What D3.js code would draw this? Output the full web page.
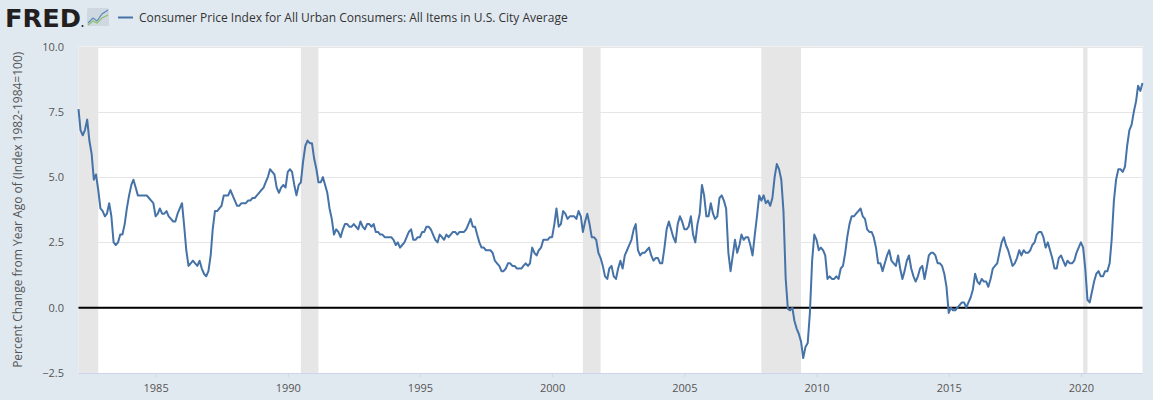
<!DOCTYPE html>
<html>
<head>
<meta charset="utf-8">
<script src="https://cdn.jsdelivr.net/npm/d3@7"></script>
<style>
  html, body { margin: 0; padding: 0; background: #e1e9f0; }
  svg { display: block; font-family: "Open Sans", sans-serif; }
</style>
</head>
<body>
<div id="chart"></div>
<script>
// CPI-U, percent change from a year ago, monthly from 1982-02
var firstMonth = '1982-02';
var cpiYoY = [
  7.6, 6.8, 6.6, 6.8, 7.2, 6.4, 5.9, 4.9, 5.1, 4.5, 3.8,
  3.7, 3.5, 3.6, 4.0, 3.5, 2.5, 2.4, 2.5, 2.8, 2.8, 3.2, 3.8,
  4.3, 4.7, 4.9, 4.6, 4.3, 4.3, 4.3, 4.3, 4.3, 4.2, 4.1, 4.0,
  3.5, 3.6, 3.8, 3.6, 3.6, 3.7, 3.5, 3.4, 3.3, 3.3, 3.6, 3.8,
  4.0, 3.1, 2.2, 1.6, 1.7, 1.8, 1.7, 1.6, 1.8, 1.5, 1.3, 1.2,
  1.4, 2.0, 3.0, 3.7, 3.7, 3.8, 3.9, 4.3, 4.3, 4.3, 4.5, 4.3,
  4.1, 3.9, 3.9, 4.0, 4.0, 4.0, 4.1, 4.1, 4.2, 4.2, 4.3, 4.4,
  4.5, 4.6, 4.8, 5.0, 5.3, 5.2, 5.1, 4.6, 4.4, 4.6, 4.7, 4.6,
  5.2, 5.3, 5.2, 4.7, 4.3, 4.7, 4.8, 5.6, 6.2, 6.4, 6.3, 6.3,
  5.7, 5.3, 4.8, 4.8, 5.0, 4.7, 4.4, 3.8, 3.4, 2.8, 3.0, 2.9,
  2.7, 3.0, 3.2, 3.2, 3.1, 3.1, 3.2, 3.1, 3.0, 3.3, 3.1, 3.0,
  3.2, 3.2, 3.1, 3.2, 2.9, 2.9, 2.8, 2.8, 2.7, 2.7, 2.7, 2.7,
  2.6, 2.4, 2.5, 2.3, 2.4, 2.5, 2.7, 2.9, 3.0, 2.6, 2.6, 2.7,
  2.7, 2.9, 2.9, 3.1, 3.1, 3.0, 2.8, 2.6, 2.5, 2.8, 2.7, 2.6,
  2.8, 2.7, 2.8, 2.9, 2.9, 2.8, 2.9, 2.9, 2.9, 3.0, 3.2, 3.4,
  3.1, 3.1, 2.8, 2.5, 2.3, 2.3, 2.2, 2.2, 2.2, 2.1, 1.8, 1.7,
  1.6, 1.4, 1.4, 1.5, 1.7, 1.7, 1.6, 1.6, 1.5, 1.5, 1.5, 1.6,
  1.7, 1.6, 1.7, 2.3, 2.1, 2.0, 2.2, 2.3, 2.6, 2.6, 2.6, 2.7,
  2.7, 3.2, 3.8, 3.1, 3.2, 3.7, 3.6, 3.4, 3.5, 3.5, 3.5, 3.4,
  3.7, 3.5, 2.9, 3.3, 3.6, 3.2, 2.7, 2.7, 2.6, 2.1, 1.9, 1.6,
  1.2, 1.1, 1.5, 1.6, 1.2, 1.1, 1.5, 1.8, 1.5, 2.0, 2.2, 2.4,
  2.6, 3.0, 3.2, 2.2, 2.0, 2.1, 2.1, 2.2, 2.3, 2.0, 1.8, 1.9,
  1.9, 1.7, 1.7, 2.3, 3.0, 3.3, 3.0, 2.7, 2.5, 3.2, 3.5, 3.3,
  3.0, 3.0, 3.1, 3.5, 2.8, 2.5, 3.2, 3.6, 4.7, 4.3, 3.5, 3.5,
  4.0, 3.6, 3.4, 3.5, 4.2, 4.3, 4.1, 3.8, 2.1, 1.4, 2.0, 2.6,
  2.1, 2.4, 2.8, 2.6, 2.7, 2.7, 2.4, 2.0, 2.8, 3.5, 4.3, 4.1,
  4.3, 4.0, 4.1, 3.9, 4.2, 5.0, 5.5, 5.3, 4.9, 3.7, 1.1, -0.05,
  -0.1, 0.0, -0.5, -0.8, -1.0, -1.3, -1.93, -1.5, -1.35, -0.2, 1.8, 2.8,
  2.6, 2.2, 2.3, 2.2, 2.0, 1.1, 1.2, 1.1, 1.1, 1.2, 1.1, 1.5,
  1.6, 2.1, 2.7, 3.2, 3.5, 3.5, 3.6, 3.7, 3.8, 3.5, 3.4, 3.0,
  2.9, 2.9, 2.7, 2.3, 1.7, 1.7, 1.4, 1.7, 2.0, 2.2, 1.8, 1.7,
  1.6, 2.0, 1.5, 1.1, 1.4, 1.8, 2.0, 1.5, 1.2, 1.0, 1.2, 1.5,
  1.6, 1.1, 1.5, 2.0, 2.1, 2.1, 2.0, 1.7, 1.7, 1.6, 1.3, 0.8,
  -0.2, 0.0, -0.1, -0.1, 0.0, 0.1, 0.2, 0.2, 0.0, 0.2, 0.4, 0.7,
  1.3, 1.0, 0.9, 1.1, 1.0, 1.0, 0.8, 1.1, 1.5, 1.6, 1.7, 2.1,
  2.5, 2.7, 2.4, 2.2, 1.9, 1.6, 1.7, 1.9, 2.2, 2.0, 2.2, 2.1,
  2.1, 2.2, 2.4, 2.5, 2.8, 2.9, 2.9, 2.7, 2.3, 2.5, 2.2, 1.9,
  1.5, 1.5, 1.9, 2.0, 1.8, 1.6, 1.8, 1.7, 1.7, 1.8, 2.1, 2.3,
  2.5, 2.3, 1.5, 0.3, 0.2, 0.6, 1.0, 1.3, 1.4, 1.2, 1.2, 1.4,
  1.4, 1.7, 2.6, 4.1, 4.9, 5.3, 5.3, 5.2, 5.4, 6.2, 6.8, 7.0,
  7.5, 7.9, 8.5, 8.3, 8.6
];
var recessions = [
  ['1981-07', '1982-11'],
  ['1990-07', '1991-03'],
  ['2001-03', '2001-11'],
  ['2007-12', '2009-06'],
  ['2020-02', '2020-04']
];
var yTicks = [-2.5, 0, 2.5, 5, 7.5, 10];
var xTickYears = [1985, 1990, 1995, 2000, 2005, 2010, 2015, 2020];
var seriesTitle = 'Consumer Price Index for All Urban Consumers: All Items in U.S. City Average';
var yTitle = 'Percent Change from Year Ago of (Index 1982-1984=100)';

var width = 1153, height = 400;
var margin = {top: 46.5, right: 10.5, bottom: 27, left: 78.5};
var parseMonth = d3.timeParse('%Y-%m');

var start = parseMonth(firstMonth);
var data = cpiYoY.map(function(v, i) {
    return {date: d3.timeMonth.offset(start, i), value: v};
});

var svg = d3.select('#chart').append('svg')
    .attr('width', width)
    .attr('height', height);

svg.append('rect')
    .attr('width', width)
    .attr('height', height)
    .attr('fill', '#e1e9f0');

var x = d3.scaleTime()
    .domain([data[0].date, data[data.length - 1].date])
    .range([margin.left, width - margin.right]);
var y = d3.scaleLinear()
    .domain([-2.5, 10])
    .range([height - margin.bottom, margin.top]);

// plot background
svg.append('rect')
    .attr('x', margin.left)
    .attr('y', margin.top)
    .attr('width', width - margin.right - margin.left)
    .attr('height', height - margin.bottom - margin.top)
    .attr('fill', '#ffffff');

svg.append('clipPath').attr('id', 'plot-clip')
    .append('rect')
    .attr('x', margin.left)
    .attr('y', margin.top)
    .attr('width', width - margin.right - margin.left)
    .attr('height', height - margin.bottom - margin.top);

// recession bands
svg.append('g').attr('clip-path', 'url(#plot-clip)')
    .selectAll('rect')
    .data(recessions)
    .join('rect')
    .attr('x', function(d) { return x(parseMonth(d[0])); })
    .attr('width', function(d) { return x(parseMonth(d[1])) - x(parseMonth(d[0])); })
    .attr('y', margin.top)
    .attr('height', height - margin.bottom - margin.top)
    .attr('fill', '#e6e6e6');

// grid
svg.append('g')
    .selectAll('line')
    .data(yTicks.filter(function(d) { return d > -2.5; }))
    .join('line')
    .attr('x1', margin.left)
    .attr('x2', width - margin.right)
    .attr('y1', function(d) { return Math.round(y(d)) + 0.5; })
    .attr('y2', function(d) { return Math.round(y(d)) + 0.5; })
    .attr('stroke', '#e6e6e6')
    .attr('stroke-width', 1);

// y axis labels
var yAxis = d3.axisLeft(y)
    .tickValues(yTicks)
    .tickSize(0)
    .tickPadding(14.5)
    .tickFormat(d3.format('.1f'));
svg.append('g')
    .attr('transform', 'translate(' + margin.left + ',0)')
    .call(yAxis)
    .call(function(g) { g.select('.domain').remove(); })
    .selectAll('text')
    .attr('font-size', '11px')
    .attr('font-family', '"Open Sans", sans-serif')
    .attr('fill', '#555');

// x axis
var xAxis = d3.axisBottom(x)
    .tickValues(xTickYears.map(function(yr) { return new Date(yr, 0, 1); }))
    .tickSize(4)
    .tickPadding(7)
    .tickFormat(d3.timeFormat('%Y'));
var gx = svg.append('g')
    .attr('transform', 'translate(0,' + (height - margin.bottom) + ')')
    .call(xAxis);
gx.select('.domain').attr('stroke', '#ccd6eb').attr('d', 'M' + margin.left + ',0.5H' + (width - margin.right));
gx.selectAll('.tick line').attr('stroke', '#ccd6eb');
gx.selectAll('text')
    .attr('font-size', '11px')
    .attr('font-family', '"Open Sans", sans-serif')
    .attr('fill', '#555');

// zero line
svg.append('line')
    .attr('x1', margin.left)
    .attr('x2', width - margin.right)
    .attr('y1', y(0))
    .attr('y2', y(0))
    .attr('stroke', '#000')
    .attr('stroke-width', 2);

// series
var line = d3.line()
    .x(function(d) { return x(d.date); })
    .y(function(d) { return y(d.value); });
svg.append('path')
    .datum(data)
    .attr('d', line)
    .attr('fill', 'none')
    .attr('stroke', '#4572a7')
    .attr('stroke-width', 2)
    .attr('stroke-linejoin', 'round');

// y axis title
svg.append('text')
    .attr('transform', 'translate(22,' + ((margin.top + height - margin.bottom) / 2) + ') rotate(-90)')
    .attr('text-anchor', 'middle')
    .attr('font-size', '12px')
    .attr('fill', '#555')
    .text(yTitle);

// header: FRED logo + legend
svg.append('text')
    .attr('x', 5)
    .attr('y', 27)
    .attr('font-family', '"DejaVu Sans", sans-serif')
    .attr('font-weight', 'bold')
    .attr('font-size', '24px')
    .attr('textLength', 76)
    .attr('lengthAdjust', 'spacingAndGlyphs')
    .attr('fill', '#231f20')
    .text('FRED');
svg.append('circle').attr('cx', 82.5).attr('cy', 26).attr('r', 1).attr('fill', '#231f20');

var icon = svg.append('g').attr('transform', 'translate(87,8)');
icon.append('rect').attr('width', 22).attr('height', 18).attr('rx', 1.5).attr('fill', '#cfd8e0');
icon.append('polyline')
    .attr('points', '1,15 6,10 10,13 15,6 21,2')
    .attr('fill', 'none').attr('stroke', '#5b8ab8').attr('stroke-width', 1.2);
icon.append('polyline')
    .attr('points', '1,17 6,13 10,15 15,10 21,7')
    .attr('fill', 'none').attr('stroke', '#8cc06a').attr('stroke-width', 1.2);

svg.append('line')
    .attr('x1', 118).attr('x2', 133)
    .attr('y1', 17.5).attr('y2', 17.5)
    .attr('stroke', '#4572a7').attr('stroke-width', 2);
svg.append('text')
    .attr('x', 139)
    .attr('y', 22)
    .attr('font-size', '12px')
    .attr('fill', '#333')
    .text(seriesTitle);
</script>
</body>
</html>
